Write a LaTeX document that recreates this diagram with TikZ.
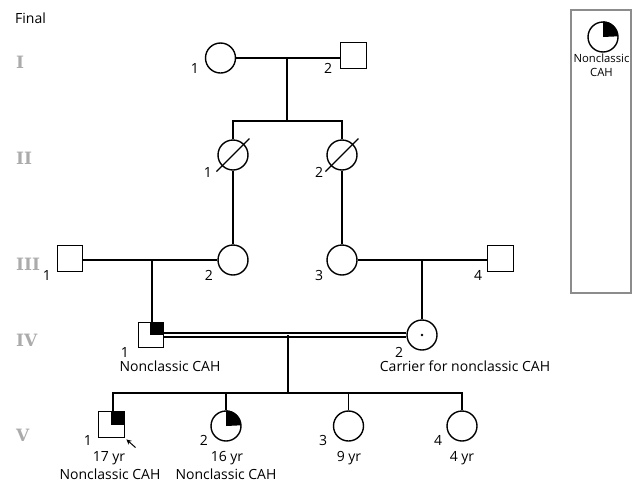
\documentclass[tikz,border=0pt]{standalone}
\usepackage{fontspec}
\setmainfont{Open Sans}
\newfontfamily\romanfont{DejaVu Serif}
\usetikzlibrary{arrows.meta}
\tikzset{
  male/.style={draw, line width=1.4pt, rectangle, minimum size=25.5pt, inner sep=0pt, fill=white},
  female/.style={draw, line width=1.4pt, circle, minimum size=30pt, inner sep=0pt, fill=white},
  rel/.style={line width=2.2pt},
  ln/.style={line width=1.4pt},
  num/.style={font=\fontsize{14}{16}\selectfont, inner sep=0pt},
  txt/.style={font=\fontsize{14}{16}\selectfont, inner sep=0pt},
  leg/.style={font=\fontsize{11.3}{13}\selectfont, inner sep=0pt},
  gen/.style={font=\romanfont\bfseries\fontsize{17}{19}\selectfont, text=black!33, anchor=west, inner sep=0pt},
}
\begin{document}
\begin{tikzpicture}[x=1pt,y=-1pt]
\useasboundingbox (0,0) rectangle (632,483);
% title and generations
\node[txt, anchor=west] (title) at (15,18) {Final};
\node[gen] (gI) at (16,62) {I};
\node[gen] (gII) at (16,158) {II};
\node[gen] (gIII) at (16,264) {III};
\node[gen] (gIV) at (16,340) {IV};
\node[gen] (gV) at (16,435) {V};
% Generation I
\node[female] (I1) at (220.5,58) {};
\node[male] (I2) at (353.5,55.5) {};
\node[num] (lI1) at (195,68) {1};
\node[num] (lI2) at (328,68) {2};
\draw[rel] (I1.east) -- (I1.east -| I2.west);
\coordinate (dI) at (287,58);
\coordinate (sI) at (287,121);
\draw[ln] (dI) -- (sI);
% Generation II
\node[female] (II1) at (233,155) {};
\node[female] (II2) at (342,155) {};
\node[num] (lII1) at (208,172) {1};
\node[num] (lII2) at (319,172) {2};
\draw[ln] (II1.north) -- (II1.north |- sI) -- (II2.north |- sI) -- (II2.north);
\draw[ln] ([shift={(-16.5,16.5)}]II1.center) -- ([shift={(16.5,-16.5)}]II1.center);
\draw[ln] ([shift={(-16.5,16.5)}]II2.center) -- ([shift={(16.5,-16.5)}]II2.center);
% Generation III
\node[male] (III1) at (70,258.5) {};
\node[female] (III2) at (233,260) {};
\node[female] (III3) at (342,260) {};
\node[male] (III4) at (500.5,258.5) {};
\node[num] (lIII1) at (47,275) {1};
\node[num] (lIII2) at (209,275) {2};
\node[num] (lIII3) at (319,275) {3};
\node[num] (lIII4) at (478,275) {4};
\draw[ln] (II1.south) -- (III2.north);
\draw[ln] (II2.south) -- (III3.north);
\draw[rel] (III2.west) -- (III2.west -| III1.east);
\draw[rel] (III3.east) -- (III3.east -| III4.west);
% Generation IV
\node[male] (IV1) at (151,335) {};
\node[female] (IV2) at (422,335) {};
\fill ([xshift=-0.7pt]IV1.center) rectangle (IV1.north east);
\fill (IV2.center) circle (1.3);
\node[num] (lIV1) at (125,352) {1};
\node[num] (lIV2) at (399,352) {2};
\node[txt] (tIV1) at (170,366) {Nonclassic CAH};
\node[txt] (tIV2) at (465,366) {Carrier for nonclassic CAH};
\coordinate (dIII1) at (152,259.5);
\draw[ln] (dIII1) -- (dIII1 |- IV1.north);
\coordinate (dIII2) at (422,260);
\draw[ln] (dIII2) -- (IV2.north);
\draw[line width=1.3pt] ([yshift=2pt]IV1.east) -- ([yshift=2pt]IV1.east -| IV2.west);
\draw[line width=1.3pt] ([yshift=-2pt]IV1.east) -- ([yshift=-2pt]IV1.east -| IV2.west);
\coordinate (dIV) at (288,335);
\coordinate (sIV) at (288,393);
\draw[ln] (dIV) -- (sIV);
% Generation V
\node[male] (V1) at (111.5,424.5) {};
\node[female] (V2) at (226,426) {};
\node[female] (V3) at (348.5,426) {};
\node[female] (V4) at (462,426) {};
\fill ([xshift=-0.7pt]V1.center) rectangle (V1.north east);
\fill (V2.center) -- (V2.north) arc[start angle=90, end angle=0, radius=15pt] -- cycle;
\coordinate (dV1) at (113,393);
\draw[ln] (dV1 |- V1.north) -- (dV1) -- (V4.north |- sIV) -- (V4.north);
\draw[ln] (V2.north) -- (V2.north |- sIV);
\draw[ln] (V3.north) -- (V3.north |- sIV);
\coordinate (arrT) at (135.5,447.5);
\draw[line width=1pt, -{Stealth[length=5pt,width=5pt]}] (arrT) -- ([shift={(1.5,1.5)}]V1.south east);
\node[num] (lV1) at (88,440) {1};
\node[num] (lV2) at (204,440) {2};
\node[num] (lV3) at (323,440) {3};
\node[num] (lV4) at (438,440) {4};
\node[txt] (aV1) at (109,458) {17 yr};
\node[txt] (aV2) at (227,458) {16 yr};
\node[txt] (aV3) at (349,458) {9 yr};
\node[txt] (aV4) at (462,458) {4 yr};
\node[txt] (tV1) at (110,474) {Nonclassic CAH};
\node[txt] (tV2) at (226,474) {Nonclassic CAH};
% Legend
\node[draw=black!45, line width=1.1pt, rectangle, minimum width=60pt, minimum height=283pt, inner sep=0pt] (legbox) at (601,151.5) {};
\node[female] (lg) at (603,37) {};
\fill (lg.center) -- (lg.north) arc[start angle=90, end angle=0, radius=15pt] -- cycle;
\node[leg] (lgt1) at (601.5,58) {Nonclassic};
\node[leg] (lgt2) at (601.5,72) {CAH};
\end{tikzpicture}
\end{document}
